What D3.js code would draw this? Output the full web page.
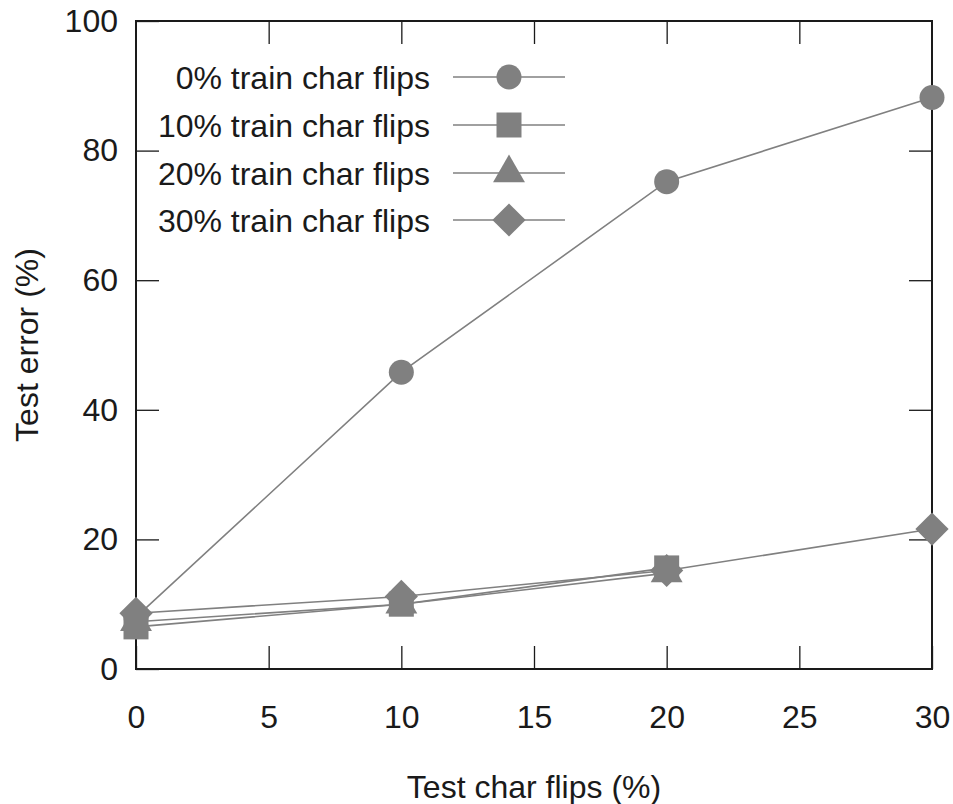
<!DOCTYPE html>
<html>
<head>
<meta charset="utf-8">
<script src="https://cdn.jsdelivr.net/npm/d3@7"></script>
<style>
  html, body { margin: 0; padding: 0; background: #fff; }
  svg { display: block; font-family: "Liberation Sans", Arial, sans-serif; }
</style>
</head>
<body>
<svg id="chart" width="953" height="804"></svg>
<script>
// Test char flips (%) on the x axis
const testFlips = [0, 10, 20, 30];

// Test error (%) for each training noise level
const seriesNames = ["0% train char flips", "10% train char flips", "20% train char flips", "30% train char flips"];
const err0 = [8.0, 45.8, 75.2, 88.2];
const err10 = [6.5, 10.0, 15.6];
const err20 = [7.3, 10.0, 14.8];
const err30 = [8.6, 11.2, 15.2, 21.6];
const seriesValues = [err0, err10, err20, err30];
const markerKinds = ["circle", "square", "triangle", "diamond"];

const xTicks = [0, 5, 10, 15, 20, 25, 30];
const yTicks = [0, 20, 40, 60, 80, 100];

const svg = d3.select("#chart");
const m = { left: 136, right: 932, top: 21, bottom: 669 };
const x = d3.scaleLinear().domain([0, 30]).range([m.left, m.right]);
const y = d3.scaleLinear().domain([0, 100]).range([m.bottom, m.top]);

const ink = "#1a1a1a";
const gray = "#808080";
const fontSize = 32;
const tickLen = 23;

// marker generators
const symbols = {
  circle: d3.symbol().type(d3.symbolCircle).size(Math.PI * 12.5 * 12.5),
  square: d3.symbol().type(d3.symbolSquare).size(25 * 25),
  triangle: d3.symbol().type(d3.symbolTriangle).size(440),
  diamond: d3.symbol().type(d3.symbolSquare).size(23.5 * 23.5)
};
function marker(g, kind, cx, cy) {
  g.append("path")
    .attr("d", symbols[kind]())
    .attr("transform", `translate(${cx},${cy})` + (kind === "diamond" ? " rotate(45)" : ""))
    .attr("fill", gray);
}

// axes with inward ticks, mirrored on all sides
const axisStyle = g => {
  g.select(".domain").remove();
  g.selectAll(".tick line").attr("stroke", ink).attr("stroke-width", 1.3);
  g.selectAll(".tick text").attr("fill", ink).style("font-size", fontSize + "px")
    .style("font-family", "'Liberation Sans', Arial, sans-serif");
};

svg.append("g").attr("transform", `translate(0,${m.bottom})`)
  .call(d3.axisBottom(x).tickValues(xTicks).tickFormat(d3.format("d")).tickSizeInner(-tickLen).tickSizeOuter(0).tickPadding(36))
  .call(axisStyle);
svg.append("g").attr("transform", `translate(0,${m.top})`)
  .call(d3.axisTop(x).tickValues(xTicks.slice(1, -1)).tickFormat("").tickSizeInner(-tickLen).tickSizeOuter(0))
  .call(axisStyle);
svg.append("g").attr("transform", `translate(${m.left},0)`)
  .call(d3.axisLeft(y).tickValues(yTicks).tickFormat(d3.format("d")).tickSizeInner(-tickLen).tickSizeOuter(0).tickPadding(18))
  .call(axisStyle);
svg.append("g").attr("transform", `translate(${m.right},0)`)
  .call(d3.axisRight(y).tickValues(yTicks.slice(1, -1)).tickFormat("").tickSizeInner(-tickLen).tickSizeOuter(0))
  .call(axisStyle);

// frame
svg.append("rect")
  .attr("x", m.left).attr("y", m.top)
  .attr("width", m.right - m.left).attr("height", m.bottom - m.top)
  .attr("fill", "none").attr("stroke", ink).attr("stroke-width", 2);

// axis titles
svg.append("text")
  .attr("x", (m.left + m.right) / 2).attr("y", 798)
  .attr("text-anchor", "middle").attr("fill", ink).style("font-size", fontSize + "px")
  .text("Test char flips (%)");
svg.append("text")
  .attr("transform", `translate(38,${(m.top + m.bottom) / 2}) rotate(-90)`)
  .attr("text-anchor", "middle").attr("fill", ink).style("font-size", fontSize + "px")
  .text("Test error (%)");

// data lines and markers
const line = d3.line().x((d, i) => x(testFlips[i])).y(d => y(d));
const plot = svg.append("g");
seriesValues.forEach((vals, s) => {
  plot.append("path").datum(vals)
    .attr("d", line).attr("fill", "none")
    .attr("stroke", gray).attr("stroke-width", 1.6);
  vals.forEach((v, i) => marker(plot, markerKinds[s], x(testFlips[i]), y(v)));
});

// legend
const legend = svg.append("g");
const rowY = [77, 125, 173, 220];
seriesNames.forEach((name, s) => {
  const cy = rowY[s];
  legend.append("text")
    .attr("x", 430).attr("y", cy).attr("dy", "0.36em")
    .attr("text-anchor", "end").attr("fill", ink).style("font-size", fontSize + "px")
    .text(name);
  legend.append("line")
    .attr("x1", 453).attr("x2", 565).attr("y1", cy).attr("y2", cy)
    .attr("stroke", gray).attr("stroke-width", 1.6);
  marker(legend, markerKinds[s], 509, cy);
});
</script>
</body>
</html>
